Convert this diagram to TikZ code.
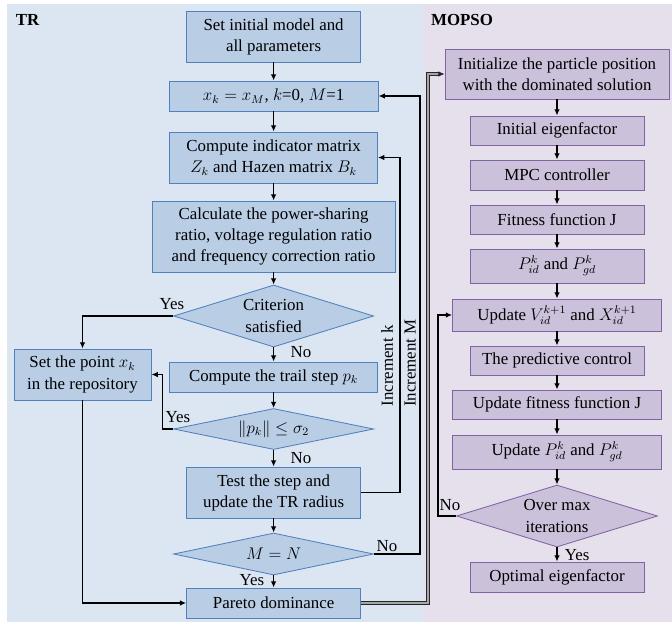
\documentclass[tikz,border=0pt]{standalone}
\usepackage{fontspec}
\setmainfont{Liberation Serif}
\usetikzlibrary{shapes.geometric,arrows.meta}
\definecolor{trbg}{RGB}{220,230,242}
\definecolor{psobg}{RGB}{230,224,236}
\definecolor{trfill}{RGB}{185,205,229}
\definecolor{trline}{RGB}{79,129,189}
\definecolor{psofill}{RGB}{204,193,218}
\definecolor{psoline}{RGB}{128,100,162}
\tikzset{
    every node/.style={font=\fontsize{12}{15}\selectfont},
    trbox/.style={draw=trline,fill=trfill,line width=0.6pt,align=center,inner sep=0pt},
    psobox/.style={draw=psoline,fill=psofill,line width=0.6pt,align=center,inner sep=0pt},
    flow/.style={->,line width=0.9pt}
}
\begin{document}
\begin{tikzpicture}[>={Latex[length=4.5pt,width=4pt]}]
    \useasboundingbox (0,0) rectangle (16.8,-15.55);
    \fill[trbg] (0.175,-0.1) rectangle (10.575,-15.55);
    \fill[psobg] (10.575,-0.1) rectangle (16.8,-15.55);
    \node[font=\fontsize{12}{15}\selectfont\bfseries] (trlabel) at (0.69,-0.5) {TR};
    \node[font=\fontsize{12}{15}\selectfont\bfseries] (psolabel) at (11.55,-0.5) {MOPSO};

    \node[trbox,minimum width=4.35cm,minimum height=1.275cm] (init) at (6.84,-0.9125) {Set initial model and\\all parameters};
    \node[trbox,minimum width=5.225cm,minimum height=0.75cm] (xk) at (6.84,-2.4) {$x_k = x_M$, $k$=0, $M$=1};
    \node[trbox,minimum width=5.2cm,minimum height=1.275cm] (comp) at (6.84,-3.9375) {Compute indicator matrix\\$Z_k$ and Hazen matrix $B_k$};
    \node[trbox,minimum width=6.075cm,minimum height=1.775cm] (calc) at (6.84,-5.9125) {Calculate the power-sharing\\ratio, voltage regulation ratio\\and frequency correction ratio};
    \node[trbox,diamond,aspect=3.2,minimum width=5cm,minimum height=1.55cm] (crit) at (6.84,-7.9) {Criterion\\satisfied};
    \node[trbox,minimum width=3.425cm,minimum height=1.275cm] (setpt) at (2.0625,-9.3625) {Set the point $x_k$\\in the repository};
    \node[trbox,minimum width=5.2cm,minimum height=0.75cm] (trail) at (6.84,-9.425) {Compute the trail step $p_k$};
    \node[trbox,diamond,aspect=4.8,minimum width=5cm,minimum height=1.025cm] (norm) at (6.84,-10.725) {$\|p_k\| \leq \sigma_2$};
    \node[trbox,minimum width=4.35cm,minimum height=1.275cm] (test) at (6.84,-12.3125) {Test the step and\\update the TR radius};
    \node[trbox,diamond,aspect=4.8,minimum width=5cm,minimum height=1.05cm] (mn) at (6.84,-13.85) {$M = N$};
    \node[trbox,minimum width=4.35cm,minimum height=0.75cm] (pareto) at (6.84,-15.075) {Pareto dominance};

    \node[psobox,minimum width=5.6cm,minimum height=1.25cm] (initpos) at (13.925,-1.85) {Initialize the particle position\\with the dominated solution};
    \node[psobox,minimum width=4.35cm,minimum height=0.725cm] (eigen) at (13.925,-3.2625) {Initial eigenfactor};
    \node[psobox,minimum width=4.35cm,minimum height=0.75cm] (mpc) at (13.925,-4.375) {MPC controller};
    \node[psobox,minimum width=4.35cm,minimum height=0.725cm] (fit) at (13.925,-5.4875) {Fitness function J};
    \node[psobox,minimum width=4.35cm,minimum height=0.85cm] (pbest) at (13.925,-6.65) {$P_{id}^k$ and $P_{gd}^k$};
    \node[psobox,minimum width=5.225cm,minimum height=0.8cm] (updvx) at (13.925,-7.875) {Update $V_{id}^{k+1}$ and $X_{id}^{k+1}$};
    \node[psobox,minimum width=4.35cm,minimum height=0.725cm] (pred) at (13.925,-9.0125) {The predictive control};
    \node[psobox,minimum width=5.225cm,minimum height=0.725cm] (updfit) at (13.925,-10.1125) {Update fitness function J};
    \node[psobox,minimum width=5.225cm,minimum height=0.85cm] (updp) at (13.925,-11.3) {Update $P_{id}^k$ and $P_{gd}^k$};
    \node[psobox,diamond,aspect=3.2,minimum width=5.025cm,minimum height=1.55cm] (over) at (13.925,-12.9) {Over max\\iterations};
    \node[psobox,minimum width=4.35cm,minimum height=0.75cm] (optimal) at (13.925,-14.425) {Optimal eigenfactor};

    \draw[flow] (init) -- (xk);
    \draw[flow] (xk) -- (comp);
    \draw[flow] (comp) -- (calc);
    \draw[flow] (calc) -- (crit);
    \draw[flow] (crit) -- (trail);
    \draw[flow] (trail) -- (norm);
    \draw[flow] (norm) -- (test);
    \draw[flow] (test) -- (mn);
    \draw[flow] (mn) -- (pareto);
    \draw[flow] (crit.west) -| (setpt.north);
    \draw[flow] (norm.west) -- ++(-0.275,0) |- (setpt.east);
    \draw[flow] (test.east) -- ++(0.975,0) |- (comp.east);
    \draw[flow] (mn.east) -- ++(1.15,0) |- (xk.east);
    \draw[flow] (setpt.south) |- (pareto.west);
    \draw[->,draw=black!85,double=gray!70,double distance=1.4pt,line width=0.6pt] (pareto.east) -- ++(1.675,0) |- (initpos.west);

    \draw[flow] (initpos) -- (eigen);
    \draw[flow] (eigen) -- (mpc);
    \draw[flow] (mpc) -- (fit);
    \draw[flow] (fit) -- (pbest);
    \draw[flow] (pbest) -- (updvx);
    \draw[flow] (updvx) -- (pred);
    \draw[flow] (pred) -- (updfit);
    \draw[flow] (updfit) -- (updp);
    \draw[flow] (updp) -- (over);
    \draw[flow] (over) -- (optimal);
    \draw[flow] (over.west) -- ++(-0.45,0) |- (updvx.west);

    \node (yes1) at (4.3,-7.6) {Yes};
    \node (no1) at (7.525,-8.8) {No};
    \node (yes2) at (4.45,-10.425) {Yes};
    \node (no2) at (7.525,-11.45) {No};
    \node (no3) at (9.675,-13.65) {No};
    \node (yes3) at (6.3,-14.5) {Yes};
    \node[rotate=90] (inck) at (9.68,-9.15) {Increment k};
    \node[rotate=90] (incm) at (10.255,-9.075) {Increment M};
    \node (no4) at (11.25,-12.625) {No};
    \node (yes4) at (14.43,-13.875) {Yes};
\end{tikzpicture}
\end{document}
